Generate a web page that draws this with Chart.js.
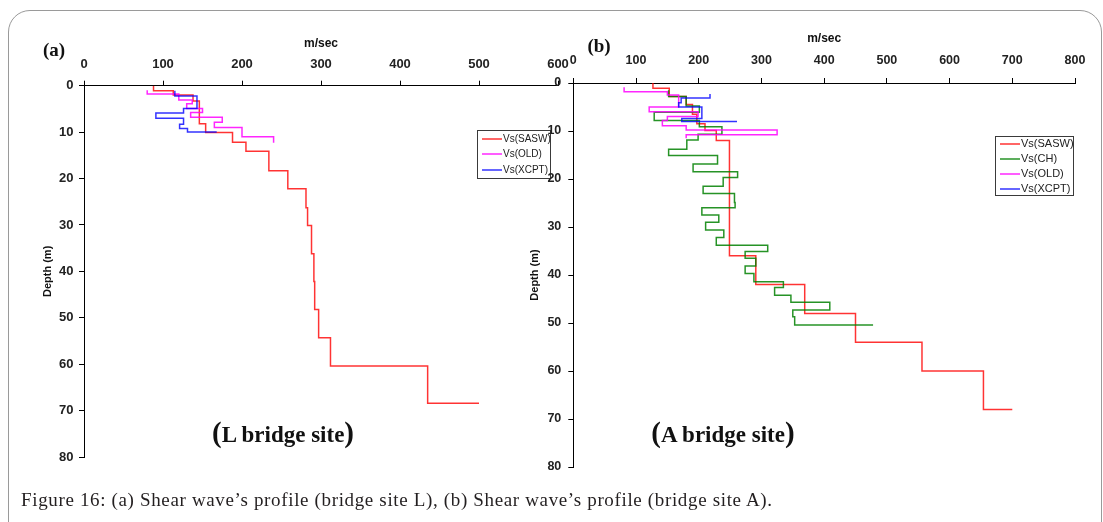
<!DOCTYPE html>
<html>
<head>
<meta charset="utf-8">
<script src="https://cdn.jsdelivr.net/npm/chart.js@4.4.1/dist/chart.umd.min.js"></script>
<style>
  body { margin: 0; width: 1103px; height: 522px; position: relative; overflow: hidden; background: #fff; }
  canvas { position: absolute; left: 0; top: 0; }
  .frame { position: absolute; left: 8px; top: 10px; width: 1094px; height: 600px; border: 1px solid #9a9a9a; border-radius: 22px; box-sizing: border-box; }
  .txt { position: absolute; white-space: nowrap; transform: translate(-50%, -50%); font-family: "Liberation Serif", "Times New Roman", serif; color: #111; }
  .panel { font-size: 19px; font-weight: bold; }
  .site { font-size: 23px; font-weight: bold; }
  .site span { font-size: 29px; }
  .caption { position: absolute; left: 21px; top: 500px; transform: translateY(-50%); white-space: nowrap; font-family: "Liberation Serif", "Times New Roman", serif; font-size: 19px; letter-spacing: 0.65px; color: #231f20; }
</style>
</head>
<body>
<div class="frame"></div>
<canvas id="chartL" width="1103" height="522"></canvas>
<canvas id="chartA" width="1103" height="522"></canvas>
<div class="txt panel" style="left:54px; top:50px">(a)</div>
<div class="txt panel" style="left:599px; top:46px">(b)</div>
<div class="txt site" style="left:283px; top:432px"><span>(</span>L bridge site<span>)</span></div>
<div class="txt site" style="left:723px; top:432px"><span>(</span>A bridge site<span>)</span></div>
<div class="caption">Figure 16: (a) Shear wave’s profile (bridge site L), (b) Shear wave’s profile (bridge site A).</div>
<script>
// layer tops (m) and shear wave velocity (m/sec) for each profile
// bridge site L
const lSaswDepth = [0, 1.1, 2.0, 3.3, 8.2, 10.1, 12.2, 14.1, 18.3, 22.2, 26.3, 30.1, 36.2, 42.2, 48.2, 54.3, 60.4, 68.4]
const lSaswVs = [88, 113, 138, 146, 154, 188, 205, 234, 258, 281, 283, 288, 291, 292, 297, 312, 435, 500]
const lOldDepth = [1.0, 1.8, 3.1, 3.9, 4.9, 5.8, 6.8, 7.9, 9.0, 11.0, 12.3]
const lOldVs = [80, 120, 137, 130, 150, 135, 175, 165, 200, 240, 240]
const lXcptDepth = [1.1, 2.2, 4.9, 5.9, 7.0, 8.3, 9.2, 10.0]
const lXcptVs = [115, 143, 126, 91, 126, 121, 131, 168]

// bridge site A
const aSaswDepth = [0, 1.1, 2.8, 4.5, 6.5, 8.5, 9.9, 12.0, 36.0, 42.0, 48.0, 54.0, 60.0, 68.0]
const aSaswVs = [127, 153, 180, 190, 197, 210, 228, 249, 291, 369, 450, 556, 654, 700]
const aChDepth = [1.5, 2.8, 4.8, 6.1, 7.8, 9.1, 10.7, 11.9, 13.8, 15.1, 16.9, 18.5, 19.7, 21.5, 23.0, 24.9, 26.0,
  27.5, 29.0, 30.6, 32.2, 33.8, 35.1, 36.5, 38.1, 39.7, 41.4, 42.6, 44.2, 45.7, 47.3, 48.7, 50.4]
const aChVs = [152, 180, 201, 129, 201, 237, 199, 181, 152, 230, 191, 262, 239, 207, 257, 258, 205,
  232, 211, 240, 228, 310, 274, 291, 274, 288, 335, 321, 347, 409, 350, 353, 478]
const aOldDepth = [0.9, 1.8, 2.5, 5.0, 6.0, 7.0, 7.8, 8.9, 9.8, 10.8, 11.5]
const aOldVs = [81, 150, 168, 121, 199, 150, 142, 180, 325, 180, 180]
const aXcptDepth = [2.3, 3.1, 4.1, 5.0, 7.4, 8.0]
const aXcptVs = [218, 172, 168, 205, 173, 261]

const depthTicks = [0, 80, 10]

// turn layer tops + velocities into a stair-step profile
function profile(depths, vs) {
  const pts = []
  for (let i = 0; i < depths.length; i++) {
    pts.push({ x: vs[i], y: depths[i] })
    if (i + 1 < depths.length) pts.push({ x: vs[i], y: depths[i + 1] })
  }
  return pts
}

function series(label, color, depths, vs, order) {
  return {
    label: label,
    data: profile(depths, vs),
    showLine: true,
    borderColor: color,
    backgroundColor: color,
    borderWidth: 1.5,
    pointRadius: 0,
    order: order,
  }
}

const legendBox = {
  id: 'legendBox',
  afterDatasetsDraw(chart, args, o) {
    const ctx = chart.ctx
    ctx.save()
    ctx.fillStyle = '#fff'
    ctx.fillRect(o.x, o.y, o.w, o.h)
    ctx.strokeStyle = '#3a3a3a'
    ctx.lineWidth = 1
    ctx.strokeRect(o.x + 0.5, o.y + 0.5, o.w, o.h)
    ctx.font = o.size + 'px "Liberation Sans", Arial, sans-serif'
    ctx.textBaseline = 'middle'
    chart.data.datasets.forEach(function (ds, i) {
      const y = Math.round(o.y + o.first + i * o.row)
      ctx.strokeStyle = ds.borderColor
      ctx.lineWidth = 1.5
      ctx.beginPath()
      ctx.moveTo(o.x + 5, y)
      ctx.lineTo(o.x + 5 + o.sample, y)
      ctx.stroke()
      ctx.fillStyle = '#222'
      ctx.fillText(ds.label, o.x + 6 + o.sample, y)
    })
    ctx.restore()
  },
}

function makeChart(id, datasets, xMax, box) {
  const c = box.layout
  return new Chart(document.getElementById(id), {
    type: 'scatter',
    data: { datasets: datasets },
    options: {
      responsive: false,
      animation: false,
      layout: { padding: c.padding },
      plugins: {
        legend: { display: false },
        tooltip: { enabled: false },
        legendBox: box.legend,
      },
      scales: {
        x: {
          type: 'linear',
          position: 'top',
          min: 0,
          max: xMax,
          afterFit: function (s) { s.height = c.xHeight },
          border: { display: true, color: '#000', width: 1 },
          grid: { drawOnChartArea: false, tickLength: 5, color: '#000' },
          ticks: {
            stepSize: 100, autoSkip: false, maxRotation: 0, padding: c.xPad, color: '#222',
            font: { family: '"Liberation Sans", Arial, sans-serif', size: c.tickSize, weight: 'bold' },
          },
          title: {
            display: true, text: 'm/sec', color: '#111', padding: { top: c.titlePad, bottom: 0 },
            font: { family: '"Liberation Sans", Arial, sans-serif', size: 12, weight: 'bold' },
          },
        },
        y: {
          type: 'linear',
          reverse: true,
          min: depthTicks[0],
          max: depthTicks[1],
          afterFit: function (s) { s.width = c.yWidth },
          border: { display: true, color: '#000', width: 1 },
          grid: { drawOnChartArea: false, tickLength: 5, color: '#000' },
          ticks: {
            stepSize: depthTicks[2], autoSkip: false, padding: c.yPad, color: '#222',
            font: { family: '"Liberation Sans", Arial, sans-serif', size: c.tickSize, weight: 'bold' },
          },
          title: {
            display: true, text: 'Depth (m)', color: '#111', padding: { top: c.yTitlePad, bottom: 0 },
            font: { family: '"Liberation Sans", Arial, sans-serif', size: 11, weight: 'bold' },
          },
        },
      },
    },
    plugins: [legendBox],
  })
}

window.onload = function () {
  const red = 'rgba(255, 0, 0, 0.8)'
  const magenta = 'rgba(255, 0, 255, 0.85)'
  const blue = 'rgba(0, 0, 255, 0.8)'
  const green = 'rgba(0, 128, 0, 0.85)'

  makeChart('chartL', [
    series('Vs(SASW)', red, lSaswDepth, lSaswVs, 3),
    series('Vs(OLD)', magenta, lOldDepth, lOldVs, 2),
    series('Vs(XCPT)', blue, lXcptDepth, lXcptVs, 1),
  ], 600, {
    layout: {
      padding: { left: 35, top: 30, right: 545, bottom: 65 },
      xHeight: 55.7, yWidth: 49, xPad: 8, yPad: 5.5, titlePad: 6, yTitlePad: 6.4, tickSize: 13,
    },
    legend: { x: 477, y: 130, w: 73, h: 48, first: 8.5, row: 15.5, sample: 20, size: 10 },
  })

  makeChart('chartA', [
    series('Vs(SASW)', red, aSaswDepth, aSaswVs, 4),
    series('Vs(CH)', green, aChDepth, aChVs, 3),
    series('Vs(OLD)', magenta, aOldDepth, aOldVs, 2),
    series('Vs(XCPT)', blue, aXcptDepth, aXcptVs, 1),
  ], 800, {
    layout: {
      padding: { left: 510, top: 30, right: 28, bottom: 55 },
      xHeight: 53, yWidth: 63.3, xPad: 9.5, yPad: 7, titlePad: 1, yTitlePad: 18.4, tickSize: 12.5,
    },
    legend: { x: 995, y: 136, w: 78, h: 59, first: 7.5, row: 15.2, sample: 20, size: 11 },
  })
}
</script>
</body>
</html>
